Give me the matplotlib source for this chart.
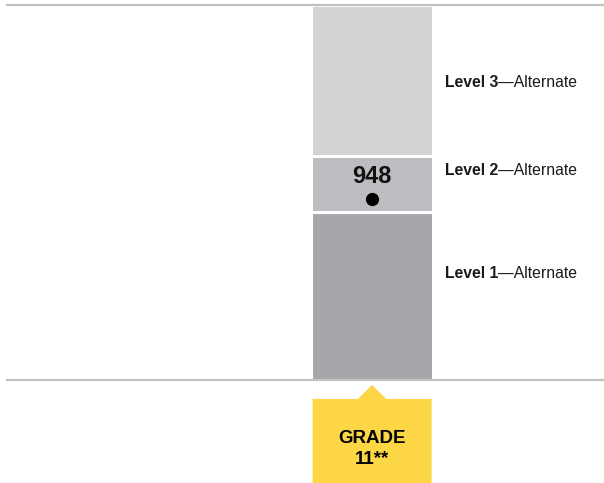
import matplotlib
matplotlib.use("Agg")
import matplotlib.pyplot as plt
from matplotlib.patches import Polygon
import matplotlib.transforms as mtransforms

plt.rcParams['font.family'] = ['Liberation Sans', 'DejaVu Sans']

# ---- data ----
categories = ["GRADE\n11**"]
score_min = 906
level_cuts = [945, 958]        # Level 1/2 and 2/3 boundaries
score_max = 993
student_score = [948]
level_names = ["Level 1", "Level 2", "Level 3"]
level_suffix = "—Alternate"
label_scores = [930.6, 954.7, 975.1]

level_colors = ["#a6a7aa", "#bcbdc0", "#d2d3d5"]

fig = plt.figure(figsize=(6.04, 4.83), dpi=100)
W, H = 604, 483
ax = fig.add_axes([7 / W, 1 - 380 / H, 597 / W, 375 / H])

bounds = [score_min] + level_cuts + [score_max]
for i in range(3):
    ax.bar(0, bounds[i + 1] - bounds[i], bottom=bounds[i], width=1.03,
           color=level_colors[i], edgecolor="white", linewidth=2.2, zorder=2)

ax.set_xlim(-3.07, 1.95)
ax.set_ylim(score_min, score_max)

for s in ["left", "right"]:
    ax.spines[s].set_visible(False)
for s in ["top", "bottom"]:
    ax.spines[s].set_color("#c0c0c0")
    ax.spines[s].set_linewidth(1.6)
    ax.spines[s].set_zorder(5)
ax.set_xticks([])
ax.set_yticks([])

# score dot and value
ax.plot(0, student_score[0], "o", color="black", markersize=8.5, zorder=4)
ax.annotate(str(student_score[0]), (0, student_score[0]), xytext=(0, 16),
            textcoords="offset points", ha="center", va="center",
            fontsize=17, fontweight="bold", color="#111111", zorder=4)

# level labels
for name, ys in zip(level_names, label_scores):
    t = ax.text(0.612, ys, name, ha="left", va="center", fontsize=11.3,
                fontweight="bold", color="#1a1a1a")
    ax.annotate(level_suffix, xycoords=t, xy=(1, 0.5), va="center",
                ha="left", fontsize=11.3, color="#1a1a1a")

# grade label box (yellow) with pointer
trans = mtransforms.blended_transform_factory(ax.transData, fig.transFigure)
def fy(p):
    return 1 - p / H
half = 0.5
poly = Polygon([(-half, fy(483)), (half, fy(483)), (half, fy(399)),
                (0.12, fy(399)), (0, fy(385)), (-0.12, fy(399)),
                (-half, fy(399))], closed=True, transform=trans,
               facecolor="#fdd646", edgecolor="none", clip_on=False)
fig.add_artist(poly)
fig.text(0, fy(449), categories[0], transform=trans, ha="center",
         va="center", fontsize=13.5, fontweight="bold", color="black",
         linespacing=1.35)

fig.savefig("out.png", dpi=100)
